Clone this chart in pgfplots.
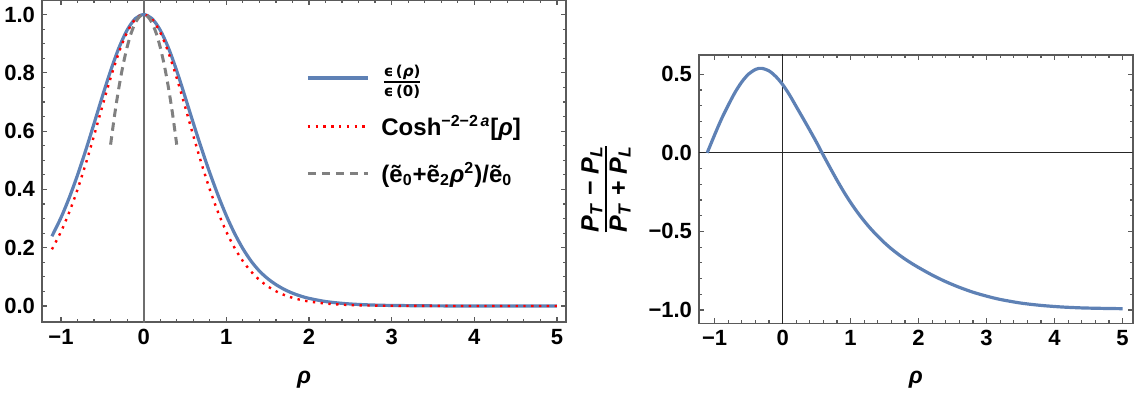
\documentclass[border=0pt]{standalone}
\usepackage{fontspec}
\setmainfont{Liberation Sans}
\newfontfamily\dejavu{DejaVu Sans}
\usepackage{pgfplots}
\pgfplotsset{compat=1.18}
\definecolor{mblue}{HTML}{5E81B5}
\definecolor{mgray}{HTML}{808080}
\definecolor{mframe}{HTML}{5A5A5A}
\definecolor{maxis}{HTML}{6E6E6E}
\pgfplotsset{
  mstyle/.style={
    scale only axis,
    axis line style={mframe, line width=0.8pt},
    tick style={mframe, line width=0.6pt},
    tick align=inside,
    major tick length=2.6pt,
    minor tick length=1.5pt,
    ticklabel style={font=\fontsize{11}{13}\selectfont\bfseries, text=black},
    label style={font=\fontsize{11.5}{13}\selectfont\bfseries},
  }
}
\begin{document}
\begin{tikzpicture}
\useasboundingbox (0,0) rectangle (569pt,198pt);
% ---------------- left panel ----------------
\begin{axis}[mstyle, at={(21pt,37pt)}, anchor=south west, width=262pt, height=161pt,
  xmin=-1.23, xmax=5.11, ymin=-0.055, ymax=1.05,
  xtick={-1,0,1,2,3,4,5}, xticklabels={−1,0,1,2,3,4,5}, minor x tick num=4,
  ytick={0,0.2,0.4,0.6,0.8,1.0}, yticklabels={0.0,0.2,0.4,0.6,0.8,1.0}, minor y tick num=3,
  xlabel={\textit{ρ}}, xlabel style={at={(axis description cs:0.5,-0.18)}, anchor=center},
  legend style={at={(axis description cs:0.492,0.825)}, anchor=north west, draw=none, fill=none,
    font=\fontsize{12}{14}\selectfont\bfseries, row sep=8pt,
    /tikz/every odd column/.append style={column sep=4pt}},
  legend cell align=left,
  legend image code/.code={\draw[#1] (0pt,0pt) -- (30pt,0pt);},
]
\addplot[maxis, line width=1pt, forget plot] coordinates {(0,-0.1) (0,1.1)};
\addplot[mblue, line width=1.6pt, smooth] coordinates {
(-1.11,0.2393) (-1.0,0.3033) (-0.9,0.3717) (-0.8,0.4494) (-0.7,0.5351) (-0.6,0.6261)
(-0.5,0.7188) (-0.4,0.8070) (-0.3,0.8853) (-0.2,0.9468) (-0.1,0.9864) (0,1)
(0.1,0.9864) (0.2,0.9468) (0.3,0.8853) (0.4,0.8070) (0.5,0.7188) (0.6,0.6280)
(0.7,0.5400) (0.8,0.4570) (0.9,0.3800) (1.0,0.3100) (1.1,0.2490) (1.2,0.1970)
(1.3,0.1540) (1.4,0.1200) (1.5,0.0940) (1.6,0.0735) (1.7,0.0570) (1.8,0.0440)
(1.9,0.0340) (2.0,0.0262) (2.2,0.0153) (2.4,0.0090) (2.6,0.0052) (2.8,0.0030)
(3.0,0.0018) (3.5,0.0004) (4.0,0.0001) (4.5,0.0000) (5.0,0.0000)};
\addlegendentry{${\mbox{\dejavu\bfseries\fontsize{7.5}{8}\selectfont ϵ\,(\textit{ρ})}\above 1pt\mbox{\dejavu\bfseries\fontsize{7.5}{8}\selectfont ϵ\,(0)}}$}
\addplot[red, line width=1.2pt, dash pattern=on 1.2pt off 2.7pt, smooth] coordinates {
(-1.11,0.1944) (-1.0,0.2550) (-0.9,0.3219) (-0.8,0.4001) (-0.7,0.4886) (-0.6,0.5849)
(-0.5,0.6851) (-0.4,0.7823) (-0.3,0.8697) (-0.2,0.9393) (-0.1,0.9844) (0,1)
(0.1,0.9844) (0.2,0.9393) (0.3,0.8697) (0.4,0.7823) (0.5,0.6851) (0.6,0.5849)
(0.7,0.4886) (0.8,0.4001) (0.9,0.3219) (1.0,0.2550) (1.1,0.1994) (1.2,0.1541)
(1.3,0.1180) (1.4,0.0896) (1.5,0.0676) (1.6,0.0507) (1.7,0.0378) (1.8,0.0281)
(1.9,0.0208) (2.0,0.0154) (2.2,0.0084) (2.4,0.0045) (2.6,0.0024) (2.8,0.0013)
(3.0,0.0007) (3.5,0.0002) (4.0,0.0000) (4.5,0.0000) (5.0,0.0000)};
\addlegendentry{Cosh\textsuperscript{−2−2\,\textit{a}}[\textit{ρ}]}
\addplot[mgray, line width=1.5pt, dash pattern=on 4.2pt off 2.8pt, smooth] coordinates {
(-0.4,0.5536) (-0.35,0.6582) (-0.3,0.7489) (-0.25,0.8256) (-0.2,0.8884) (-0.15,0.9372)
(-0.1,0.9721) (-0.05,0.9930) (0,1) (0.05,0.9930) (0.1,0.9721) (0.15,0.9372)
(0.2,0.8884) (0.25,0.8256) (0.3,0.7489) (0.35,0.6582) (0.4,0.5536)};
\addlegendentry{(ẽ\textsubscript{0}+ẽ\textsubscript{2}\textit{ρ}\textsuperscript{2})/ẽ\textsubscript{0}}
\end{axis}
% ---------------- right panel ----------------
\begin{axis}[mstyle, at={(349.5pt,36.35pt)}, anchor=south west, width=216.85pt, height=134.15pt,
  xmin=-1.23, xmax=5.15, ymin=-1.085, ymax=0.623,
  xtick={-1,0,1,2,3,4,5}, xticklabels={−1,0,1,2,3,4,5}, minor x tick num=4,
  ytick={-1,-0.5,0,0.5}, yticklabels={−1.0,−0.5,0.0,0.5}, minor y tick num=4,
  xlabel={\textit{ρ}}, xlabel style={at={(axis description cs:0.5,-0.211)}, anchor=center},
  ylabel={${\mbox{\fontsize{12.5}{14}\selectfont\textit{P}\textsubscript{\textit{T}} − \textit{P}\textsubscript{\textit{L}}}\above 1.2pt\mbox{\fontsize{12.5}{14}\selectfont\textit{P}\textsubscript{\textit{T}} + \textit{P}\textsubscript{\textit{L}}}}$},
  ylabel style={at={(axis description cs:-0.2145,0.5)}, anchor=center},
]
\addplot[black!85, line width=0.6pt, forget plot] coordinates {(0,-1.2) (0,0.7)};
\addplot[black!85, line width=0.6pt, forget plot] coordinates {(-1.3,0) (5.2,0)};
\addplot[mblue, line width=1.6pt, smooth] coordinates {
(-1.11,0.0) (-1.0,0.115) (-0.9,0.215) (-0.8,0.303) (-0.7,0.385) (-0.6,0.452)
(-0.5,0.502) (-0.4,0.531) (-0.35,0.538) (-0.3,0.538) (-0.2,0.522) (-0.1,0.486)
(0,0.435) (0.1,0.370) (0.2,0.295) (0.3,0.220) (0.4,0.144) (0.5,0.066)
(0.58,0.0) (0.7,-0.096) (0.8,-0.174) (0.9,-0.248) (1.0,-0.316) (1.1,-0.378)
(1.2,-0.434) (1.3,-0.485) (1.4,-0.531) (1.5,-0.573) (1.6,-0.611) (1.7,-0.645)
(1.8,-0.676) (1.9,-0.704) (2.0,-0.730) (2.2,-0.778) (2.4,-0.820) (2.6,-0.856)
(2.8,-0.887) (3.0,-0.912) (3.2,-0.933) (3.5,-0.956) (3.8,-0.971) (4.1,-0.981)
(4.4,-0.987) (4.7,-0.990) (5.0,-0.992)};
\end{axis}
\end{tikzpicture}
\end{document}
